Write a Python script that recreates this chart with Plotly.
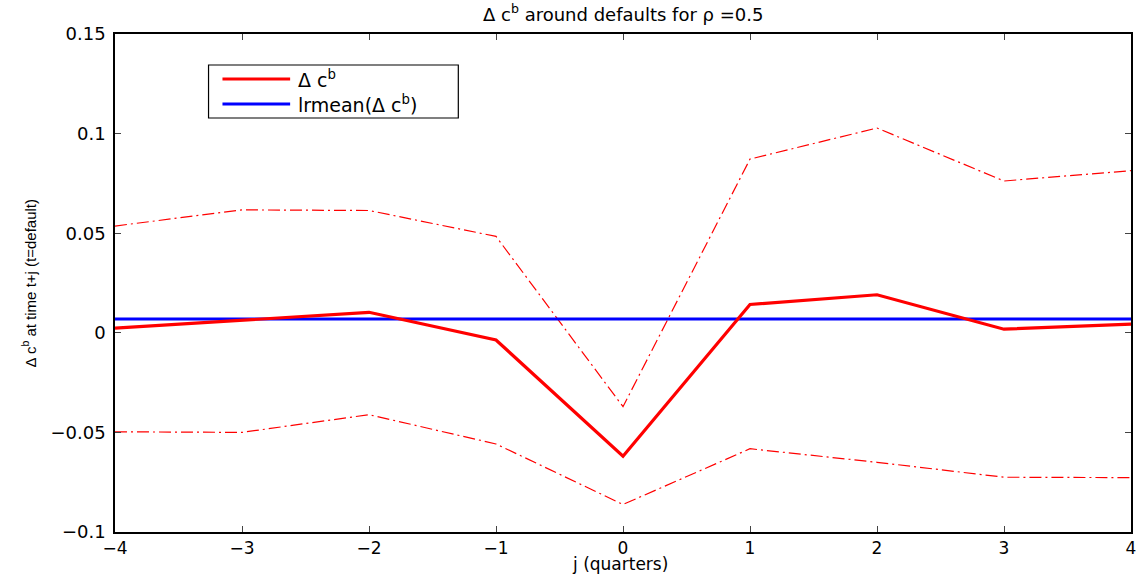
import plotly.graph_objects as go

# quarters relative to the default date
j = [-4, -3, -2, -1, 0, 1, 2, 3, 4]

# average change in consumption around defaults
dcb = [0.0023, 0.0064, 0.0103, -0.0036, -0.0620, 0.0142, 0.0191, 0.0018, 0.0044]
# confidence band
dcb_upper = [0.0536, 0.0617, 0.0614, 0.0484, -0.0371, 0.0872, 0.1028, 0.0762, 0.0814]
dcb_lower = [-0.0497, -0.0500, -0.0411, -0.0558, -0.0862, -0.0582, -0.0650, -0.0725, -0.0727]
# long-run mean
lrmean = 0.0069

xticks = [-4, -3, -2, -1, 0, 1, 2, 3, 4]
yticks = [-0.1, -0.05, 0, 0.05, 0.1, 0.15]
ytick_text = ["\u22120.1", "\u22120.05", "0", "0.05", "0.1", "0.15"]
xtick_text = ["\u22124", "\u22123", "\u22122", "\u22121", "0", "1", "2", "3", "4"]

FONT = "DejaVu Sans, Verdana, sans-serif"
SANS = "Liberation Sans, Arial, Helvetica, sans-serif"
dashdot = "12px,4px,2px,4px"

fig = go.Figure()
fig.add_trace(go.Scatter(x=j, y=dcb_upper, mode="lines",
                         line=dict(color="#ff0000", width=1.2, dash=dashdot),
                         showlegend=False, hoverinfo="skip"))
fig.add_trace(go.Scatter(x=j, y=dcb_lower, mode="lines",
                         line=dict(color="#ff0000", width=1.2, dash=dashdot),
                         showlegend=False, hoverinfo="skip"))
fig.add_trace(go.Scatter(x=j, y=[lrmean] * len(j), mode="lines",
                         line=dict(color="#0000ff", width=3),
                         showlegend=False))
fig.add_trace(go.Scatter(x=j, y=dcb, mode="lines",
                         line=dict(color="#ff0000", width=3.2),
                         showlegend=False))

axis_common = dict(
    showgrid=False, zeroline=False, showline=True, linecolor="black",
    linewidth=1.5, mirror="ticks", ticks="inside", ticklen=6,
    tickcolor="#444", tickwidth=1,
)

fig.update_layout(
    width=1144, height=575,
    margin=dict(l=115, r=8, t=34, b=43),
    paper_bgcolor="white", plot_bgcolor="white",
    font=dict(family=FONT, color="black"),
    xaxis=dict(range=[-4, 4], tickvals=xticks, ticktext=xtick_text,
               tickfont=dict(family=FONT, size=17, color="black"),
               ticklabelstandoff=0, **axis_common),
    yaxis=dict(range=[-0.1, 0.15], tickvals=yticks, ticktext=ytick_text,
               tickfont=dict(family=FONT, size=18, color="black"),
               ticklabelstandoff=4, **axis_common),
    showlegend=False,
)

# plot-area geometry in pixels, used to place the text and legend box
PL, PR, PT, PB = 115, 1136, 34, 532
def px(x):
    return (x - PL) / (PR - PL)
def py(y):
    return (PB - y) / (PB - PT)

annotations = [
    dict(text="\u0394 c<sup>b</sup> around defaults for \u03c1 =0.5",
         x=px(625), y=py(13), xref="paper", yref="paper",
         xanchor="center", yanchor="middle", showarrow=False,
         font=dict(family=FONT, size=18)),
    dict(text="j (quarters)",
         x=px(622), y=py(564), xref="paper", yref="paper",
         xanchor="center", yanchor="middle", showarrow=False,
         font=dict(family=FONT, size=17)),
    dict(text="\u0394 c<sup>b</sup> at time t+j (t=default)",
         x=px(28), y=py(283), xref="paper", yref="paper",
         xanchor="center", yanchor="middle", showarrow=False, textangle=-90,
         font=dict(family=SANS, size=15)),
    dict(text="\u0394 c<sup>b</sup>",
         x=px(297), y=py(79), xref="paper", yref="paper",
         xanchor="left", yanchor="middle", showarrow=False,
         font=dict(family=FONT, size=19)),
    dict(text="lrmean(\u0394 c<sup>b</sup>)",
         x=px(297), y=py(104), xref="paper", yref="paper",
         xanchor="left", yanchor="middle", showarrow=False,
         font=dict(family=FONT, size=19)),
]

shapes = [
    dict(type="rect", xref="paper", yref="paper",
         x0=px(209), x1=px(460), y0=py(118), y1=py(65),
         line=dict(color="black", width=1.2), fillcolor="white", layer="above"),
    dict(type="line", xref="paper", yref="paper",
         x0=px(223), x1=px(291), y0=py(79), y1=py(79),
         line=dict(color="#ff0000", width=3.2), layer="above"),
    dict(type="line", xref="paper", yref="paper",
         x0=px(223), x1=px(291), y0=py(104), y1=py(104),
         line=dict(color="#0000ff", width=3), layer="above"),
]

fig.update_layout(annotations=annotations, shapes=shapes)

fig.write_html("out.html")
